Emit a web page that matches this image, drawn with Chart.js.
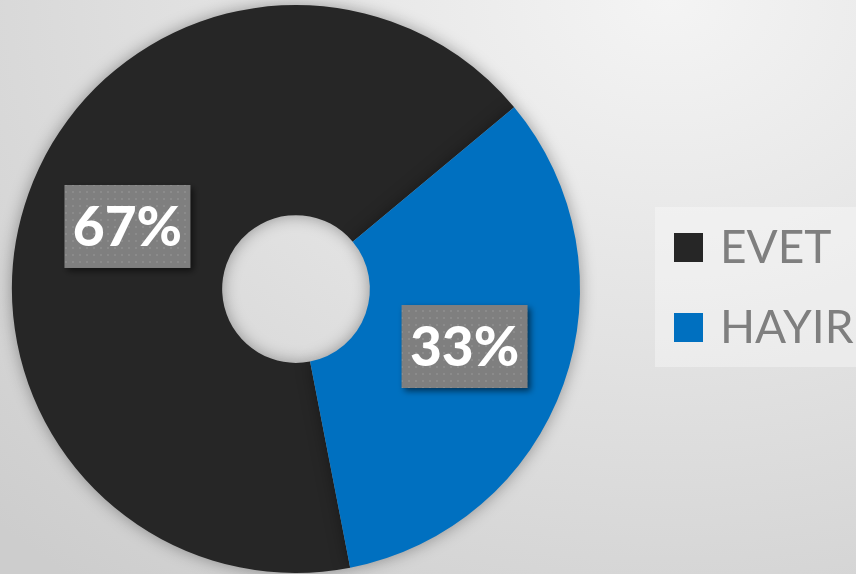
<!DOCTYPE html>
<html>
<head>
<meta charset="utf-8">
<script src="https://cdn.jsdelivr.net/npm/chart.js@4.4.1/dist/chart.umd.min.js"></script>
<style>
	html, body { margin: 0; padding: 0; }
	body {
		width: 856px; height: 574px; overflow: hidden;
		background: radial-gradient(ellipse 110% 130% at 78% 0%, #f4f4f4 0%, #e3e3e3 45%, #cdcdcd 100%);
	}
	#wrap { position: relative; width: 856px; height: 574px; }
</style>
</head>
<body>
<div id="wrap"><canvas id="pollChart"></canvas></div>
<script>
'use strict';

// chart data
const labels = ['EVET', 'HAYIR'];
const values = [67, 33];
const colors = ['#262626', '#0070C0'];

// dotted gray fill for the percent boxes
function makeDotPattern(ctx) {
	const tile = document.createElement('canvas');
	tile.width = 7;
	tile.height = 7;
	const t = tile.getContext('2d');
	t.fillStyle = '#7f7f7f';
	t.fillRect(0, 0, 7, 7);
	t.fillStyle = '#8b8b8b';
	t.fillRect(2, 2, 2, 2);
	return ctx.createPattern(tile, 'repeat');
}

// soft shadow around the ring
const ringShadow = {
	id: 'ringShadow',
	beforeDatasetDraw(chart) {
		const ctx = chart.ctx;
		ctx.save();
		ctx.shadowColor = 'rgba(0, 0, 0, 0.35)';
		ctx.shadowBlur = 16;
	},
	afterDatasetDraw(chart) {
		chart.ctx.restore();
	}
};

// percent labels in gray boxes
const percentBoxes = {
	id: 'percentBoxes',
	afterDatasetsDraw(chart) {
		const ctx = chart.ctx;
		const meta = chart.getDatasetMeta(0);
		const total = values.reduce((a, b) => a + b, 0);
		const pattern = makeDotPattern(ctx);

		meta.data.forEach((arc, i) => {
			const pos = arc.tooltipPosition();
			const text = Math.round(values[i] / total * 100) + '%';

			ctx.save();
			ctx.shadowColor = 'rgba(0, 0, 0, 0.55)';
			ctx.shadowBlur = 6;
			ctx.shadowOffsetX = 3;
			ctx.shadowOffsetY = 3;
			ctx.fillStyle = pattern;
			ctx.fillRect(pos.x - 63, pos.y - 44, 126, 83);
			ctx.restore();

			ctx.save();
			ctx.fillStyle = '#ffffff';
			ctx.font = '900 55px Lato';
			ctx.textAlign = 'center';
			ctx.textBaseline = 'middle';
			ctx.fillText(text, pos.x, pos.y - 1);
			ctx.restore();
		});
	}
};

// legend on the right side
const sideLegend = {
	id: 'sideLegend',
	afterDraw(chart) {
		const ctx = chart.ctx;
		const left = 655;
		const top = 207;

		ctx.save();
		ctx.fillStyle = 'rgba(255, 255, 255, 0.35)';
		ctx.fillRect(left, top, chart.width - left, 160);

		ctx.font = '46px Lato';
		ctx.textBaseline = 'alphabetic';
		labels.forEach((label, i) => {
			const y = top + 26 + i * 80;
			ctx.fillStyle = colors[i];
			ctx.fillRect(left + 19, y, 29, 29);
			ctx.fillStyle = '#7f7f7f';
			ctx.fillText(label, left + 65, y + 30);
		});
		ctx.restore();
	}
};

const poll_chart = document.getElementById('pollChart');

new Chart(poll_chart, {
	type: 'doughnut',
	data: {
		labels: labels,
		datasets: [{
			data: values,
			backgroundColor: colors,
			borderWidth: 0
		}]
	},
	options: {
		responsive: true,
		maintainAspectRatio: false,
		animation: false,
		cutout: '26%',
		rotation: 169,
		layout: {
			padding: { left: 12, top: 5, right: 276, bottom: 1 }
		},
		plugins: {
			legend: { display: false },
			tooltip: { enabled: false },
			title: { display: false }
		}
	},
	plugins: [ringShadow, percentBoxes, sideLegend]
});
</script>
</body>
</html>
